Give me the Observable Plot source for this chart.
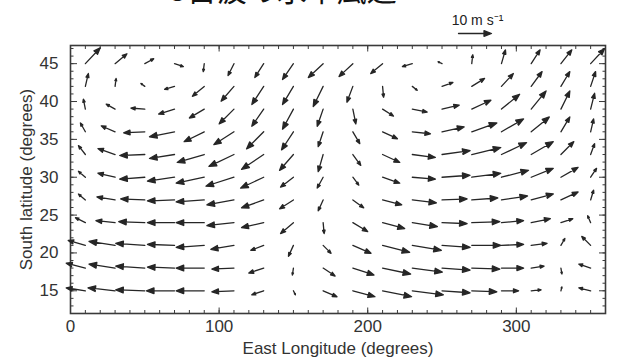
<!DOCTYPE html>
<html><head><meta charset="utf-8">
<script src="https://cdn.jsdelivr.net/npm/d3@7"></script>
<script src="https://cdn.jsdelivr.net/npm/@observablehq/plot@0.6"></script>
<style>
html,body{margin:0;padding:0;background:#fff;overflow:hidden}
#wrap{position:relative;width:617px;height:358px;overflow:hidden}
#title{position:absolute;left:170px;top:-27px;font-family:"Noto Sans CJK JP";font-size:30px;line-height:30px;color:#111;white-space:nowrap}
</style></head><body>
<div id="wrap"><div id="chart"></div><div id="title">5日波の水平風速</div></div>
<script>
// grid longitudes (deg E) and south latitudes (deg), rows top to bottom
const lon = [10,30,50,70,90,110,130,150,170,190,210,230,250,270,290,310,330,350];
const lat = [45,42,39,36,33,30,27,24,21,18,15];
// eastward wind component (m/s), one row per latitude
const U = [
 [4.5,3.6,2.7,2.7,-0.3,-1.8,-2.7,-3.3,-4.5,-4.2,-3.6,-3.0,-1.2,0.3,1.2,2.7,3.3,4.2],
 [0.9,0.3,-1.2,-3.0,-3.6,-3.9,-3.6,-3.3,-3.0,-1.8,0.3,1.5,3.3,3.9,3.6,3.3,2.7,1.5],
 [-0.6,-2.7,-4.2,-4.8,-4.5,-4.5,-3.6,-3.3,-1.8,0.9,3.3,4.5,5.2,5.8,5.5,4.5,2.7,1.2],
 [-1.5,-4.2,-6.4,-7.6,-6.1,-6.1,-5.2,-3.6,-1.5,2.1,4.5,5.5,6.7,7.6,6.7,5.5,2.7,0.9],
 [-2.1,-5.2,-7.6,-7.6,-8.2,-7.6,-6.7,-4.2,-1.5,2.4,5.2,7.0,8.5,8.8,7.6,6.7,3.9,1.2],
 [-2.1,-5.2,-7.6,-8.2,-8.5,-8.5,-7.0,-3.9,-1.8,1.8,5.2,7.0,8.5,8.8,8.2,6.7,5.2,1.8],
 [-2.1,-5.5,-7.3,-8.2,-8.5,-8.2,-6.7,-4.2,-1.5,3.3,5.8,7.3,7.6,7.9,7.9,6.7,5.2,0.9],
 [-3.0,-5.8,-7.9,-8.2,-8.5,-8.2,-6.7,-3.9,0.3,4.5,6.7,7.6,7.6,8.5,6.7,5.8,3.6,-0.9],
 [-5.2,-7.9,-8.8,-8.2,-8.5,-7.0,-3.9,-1.5,2.4,5.5,8.2,8.8,8.5,8.8,6.7,4.8,1.2,-2.7],
 [-5.8,-7.9,-8.8,-8.2,-8.5,-6.7,-4.5,-0.3,3.6,6.4,8.5,9.1,8.5,8.5,6.7,3.9,0.3,-3.6],
 [-5.8,-8.2,-8.8,-8.5,-8.5,-6.7,-3.6,0.6,4.2,6.7,8.8,9.4,8.5,7.6,5.2,3.0,0.3,-3.6]
];
// poleward (southward) wind component (m/s)
const V = [
 [4.8,3.0,1.5,-0.9,-2.4,-3.6,-4.2,-4.8,-4.2,-3.9,-3.0,-0.9,0.6,2.7,4.2,4.2,4.2,4.5],
 [3.9,2.4,0.9,-0.9,-3.0,-4.5,-5.5,-5.5,-6.1,-4.8,-3.3,-1.2,1.2,2.4,3.9,4.5,4.5,4.5],
 [3.0,1.5,0.3,-1.5,-2.7,-4.5,-5.2,-6.1,-5.2,-4.5,-2.1,-0.9,1.2,2.7,4.5,5.5,5.5,4.8],
 [2.7,1.8,-0.3,-1.5,-3.0,-3.9,-5.2,-5.5,-4.5,-3.6,-2.1,-0.6,1.5,2.7,3.9,4.5,4.5,3.9],
 [2.7,1.8,-0.3,-1.2,-2.4,-3.6,-4.5,-4.8,-5.2,-3.3,-2.4,-0.9,1.2,2.1,3.6,3.9,3.9,3.3],
 [1.8,1.2,-0.6,-1.2,-1.8,-2.7,-3.3,-3.0,-3.3,-2.4,-1.8,-0.6,0.6,1.2,2.1,2.7,3.0,2.7],
 [1.8,0.9,0.3,-0.3,-0.6,-1.5,-2.4,-2.7,-3.3,-2.4,-1.5,-0.9,0.3,0.6,1.2,1.8,2.4,3.0],
 [1.5,0.6,0.3,0,0,-0.9,-1.5,-3.3,-3.3,-2.7,-1.8,-1.2,-0.3,0.3,0.6,1.2,1.2,2.1],
 [1.5,1.2,0.6,0.3,-0.6,-1.2,-1.5,-3.3,-2.4,-2.4,-2.1,-1.5,-0.6,0,0.3,0.6,2.1,2.7],
 [1.5,1.2,0.6,0.3,0,-0.3,-1.5,-2.1,-2.4,-2.1,-1.8,-1.2,-0.6,-0.3,0,0.6,-1.8,1.2],
 [0.9,0.9,0.3,0,0,-0.3,-1.2,-1.2,-1.8,-1.8,-1.8,-1.2,-0.6,-0.3,0,0.3,1.2,0.9]
];
const xMajor = [0,100,200,300];
const yMajor = [15,20,25,30,35,40,45];
const refSpeed = [10];
const refLabel = ["10 m s⁻¹"];
const xTitle = ["East Longitude (degrees)"];
const yTitle = ["South latitude (degrees)"];
const xMinor = d3.range(0, 361, 10);
const yMinor = d3.range(12, 48, 1);

const data = lat.flatMap((la, i) => lon.map((lo, j) => ({lon: lo, lat: la, u: U[i][j], v: V[i][j]})));

const head = {
  draw(context, l) {
    const h = Math.min(l * 0.3, 7.5), w = h * 0.38;
    context.moveTo(0, 0);
    context.lineTo(0, -l + h * 0.5);
    context.moveTo(0, -l);
    context.lineTo(-w, -l + h);
    context.lineTo(w, -l + h);
    context.closePath();
  }
};
const ink = "#262626";
const axisInk = "#3a3a3a";

const chart = Plot.plot({
  width: 617, height: 358,
  marginTop: 45, marginBottom: 45, marginLeft: 70, marginRight: 12,
  style: {fontFamily: "'Liberation Sans', Arial, sans-serif", fontSize: "17px", color: "#333", background: "white"},
  x: {domain: [0, 360], label: null},
  y: {domain: [12, 47.4], label: null},
  length: {domain: [0, 10], range: [0, 33]},
  marks: [
    Plot.frame({stroke: axisInk, strokeWidth: 1.6}),
    Plot.axisX(xMinor, {anchor: "bottom", tickSize: -3, tickFormat: () => "", label: null, stroke: axisInk}),
    Plot.axisX(xMinor, {anchor: "top", tickSize: -3, tickFormat: () => "", label: null, stroke: axisInk}),
    Plot.axisX(xMajor, {anchor: "bottom", tickSize: -5.5, tickPadding: 12, label: null, stroke: axisInk, fill: "#333"}),
    Plot.axisX(xMajor, {anchor: "top", tickSize: -5.5, tickFormat: () => "", label: null, stroke: axisInk}),
    Plot.axisY(yMinor, {anchor: "left", tickSize: -3.5, tickFormat: () => "", label: null, stroke: axisInk}),
    Plot.axisY(yMinor, {anchor: "right", tickSize: -3.5, tickFormat: () => "", label: null, stroke: axisInk}),
    Plot.axisY(yMajor, {anchor: "left", tickSize: -7, tickPadding: 19, label: null, stroke: axisInk, fill: "#333"}),
    Plot.axisY(yMajor, {anchor: "right", tickSize: -7, tickFormat: () => "", label: null, stroke: axisInk}),
    Plot.vector(data, {
      x: "lon", y: "lat",
      length: d => Math.hypot(d.u, d.v),
      rotate: d => Math.atan2(d.u, d.v) * 180 / Math.PI,
      anchor: "start", shape: head, stroke: ink, fill: ink, strokeWidth: 1.3
    }),
    Plot.vector(refSpeed, {frameAnchor: "top-right", dx: -147, dy: -12, length: d => d, rotate: 90, anchor: "start", shape: head, stroke: ink, fill: ink, strokeWidth: 1.3}),
    Plot.text(refLabel, {frameAnchor: "top-right", dx: -128, dy: -25, textAnchor: "middle", lineAnchor: "middle", fontSize: 14, fill: "#222"}),
    Plot.text(xTitle, {frameAnchor: "bottom", dy: 35, textAnchor: "middle", lineAnchor: "middle", fill: "#333"}),
    Plot.text(yTitle, {frameAnchor: "left", dx: -44, rotate: -90, textAnchor: "middle", lineAnchor: "middle", fill: "#333"})
  ]
});
document.getElementById("chart").appendChild(chart);
</script>
</body></html>
